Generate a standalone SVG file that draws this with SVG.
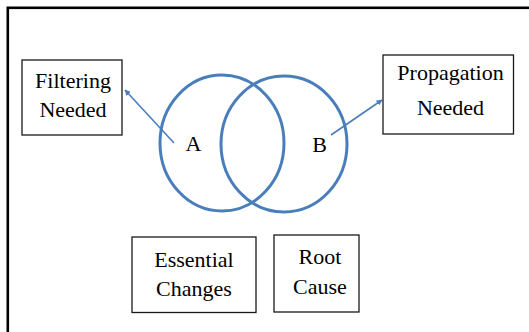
<svg xmlns="http://www.w3.org/2000/svg" width="529" height="332" viewBox="0 0 529 332">
<style>
.box{fill:#fff;stroke:#1a1a1a;stroke-width:1.3}
.lbl{font-size:22px;fill:#000;text-anchor:middle}
.venn{fill:none;stroke:#4a7ebb;stroke-width:3}
.conn{stroke:#4a7ebb;stroke-width:1.6;fill:none;marker-end:url(#ah)}
</style>
<defs>
<marker id="ah" viewBox="0 0 10 10" refX="9" refY="5" markerWidth="6" markerHeight="6" orient="auto" markerUnits="userSpaceOnUse">
<path d="M0,0 L10,5 L0,10 z" fill="#4a7ebb"/>
</marker>
</defs>
<rect width="529" height="332" fill="#fff"/>
<rect id="frame" x="7.8" y="7.8" width="600" height="400" fill="none" stroke="#000" stroke-width="2.6"/>
<g font-family="Liberation Serif, DejaVu Serif, serif">
<g id="venn">
<ellipse id="circleA" class="venn" cx="222" cy="143" rx="62" ry="68"/>
<ellipse id="circleB" class="venn" cx="284" cy="144" rx="63" ry="68"/>
<text class="lbl" x="193.5" y="151">A</text>
<text class="lbl" x="319.5" y="152">B</text>
</g>
<g id="connectors">
<line class="conn" x1="174" y1="143" x2="125" y2="90"/>
<line class="conn" x1="331" y1="135" x2="382" y2="100"/>
</g>
<g id="filtering">
<rect class="box" x="22" y="60" width="100" height="75"/>
<text class="lbl" x="73" y="87.5">Filtering</text>
<text class="lbl" x="73" y="116.5">Needed</text>
</g>
<g id="propagation">
<rect class="box" x="383" y="55" width="130.5" height="79"/>
<text class="lbl" x="450.5" y="80">Propagation</text>
<text class="lbl" x="450.5" y="115">Needed</text>
</g>
<g id="essential">
<rect class="box" x="132" y="237" width="124" height="75.5"/>
<text class="lbl" x="194" y="266.5">Essential</text>
<text class="lbl" x="194" y="295.5">Changes</text>
</g>
<g id="rootcause">
<rect class="box" x="274" y="235" width="85" height="77"/>
<text class="lbl" x="320" y="264">Root</text>
<text class="lbl" x="320" y="294">Cause</text>
</g>
</g>
</svg>
